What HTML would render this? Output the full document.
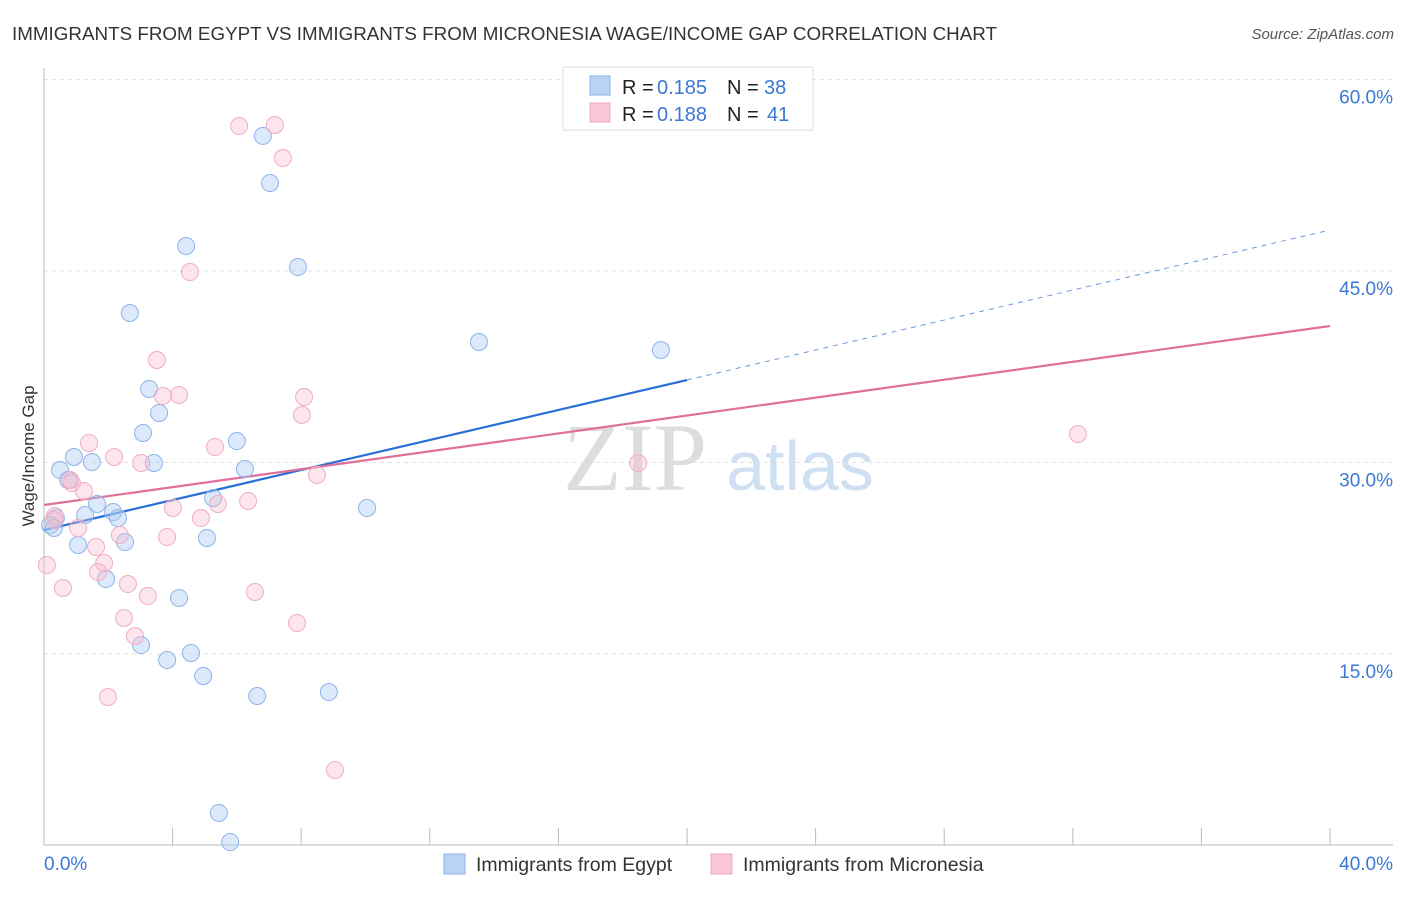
<!DOCTYPE html>
<html><head><meta charset="utf-8"><style>
body{margin:0;background:#fff;font-family:"Liberation Sans",sans-serif;}
svg text{font-family:"Liberation Sans",sans-serif;}
</style></head><body>
<svg id="chart" width="1406" height="892" viewBox="0 0 1406 892" xmlns="http://www.w3.org/2000/svg">
<text x="12" y="40" font-size="18.8" fill="#333" textLength="985">IMMIGRANTS FROM EGYPT VS IMMIGRANTS FROM MICRONESIA WAGE/INCOME GAP CORRELATION CHART</text>
<text x="1394" y="39" font-size="15" fill="#555" font-style="italic" text-anchor="end">Source: ZipAtlas.com</text>
<g id="grid"></g>
<text x="635" y="490" font-size="96" fill="#ddd" text-anchor="middle" style="font-family:'Liberation Serif',serif">ZIP</text>
<text x="800" y="490" font-size="70" fill="#cfe0f3" text-anchor="middle">atlas</text>
<g id="lines"></g>
<g id="points"></g>
<text transform="translate(34,456) rotate(-90)" font-size="17" fill="#333" text-anchor="middle">Wage/Income Gap</text>
<text x="44" y="870" font-size="19" fill="#3a78d4">0.0%</text>
<text x="1393" y="870" font-size="19" fill="#3a78d4" text-anchor="end">40.0%</text>
<g>
<rect x="563" y="67" width="250" height="63" fill="#fff" stroke="#ddd"/>
<rect x="590" y="76" width="20" height="19" fill="#b8d3f5" stroke="#8ab4ea"/>
<text x="622" y="94" font-size="20" fill="#222">R =</text>
<text x="657" y="94" font-size="20" fill="#3a78d4">0.185</text>
<text x="727" y="94" font-size="20" fill="#222">N =</text>
<text x="764" y="94" font-size="20" fill="#3a78d4">38</text>
<rect x="590" y="103" width="20" height="19" fill="#f9c6d6" stroke="#f0a8c0"/>
<text x="622" y="121" font-size="20" fill="#222">R =</text>
<text x="657" y="121" font-size="20" fill="#3a78d4">0.188</text>
<text x="727" y="121" font-size="20" fill="#222">N =</text>
<text x="767" y="121" font-size="20" fill="#3a78d4">41</text>
</g>
<g>
<rect x="444" y="854" width="21" height="20" fill="#b8d3f5" stroke="#8ab4ea"/>
<text x="476" y="871" font-size="19.5" fill="#333">Immigrants from Egypt</text>
<rect x="711" y="854" width="21" height="20" fill="#f9c6d6" stroke="#f0a8c0"/>
<text x="743" y="871" font-size="19.5" fill="#333">Immigrants from Micronesia</text>
</g>
</svg>
<script>
const yTicks=[15,30,45,60];
const yTickLabels=["15.0%","30.0%","45.0%","60.0%"];
const xTicks=[4,8,12,16,20,24,28,32,36,40];
const egyptX=[6.81,7.03,4.42,7.90,2.67,13.53,19.19,3.27,3.58,3.08,6.00,0.93,1.49,3.42,0.50,6.25,0.75,5.26,1.65,1.28,2.15,2.30,10.05,0.37,0.19,0.31,2.52,1.06,5.07,1.93,4.20,3.02,4.57,3.83,4.95,6.63,8.86,5.44,5.79];
const egyptY=[55.58,51.89,46.96,45.31,41.71,39.44,38.81,35.76,33.88,32.31,31.68,30.43,30.04,29.96,29.41,29.49,28.63,27.22,26.75,25.89,26.12,25.65,26.44,25.65,25.10,24.87,23.77,23.54,24.09,20.87,19.39,15.70,15.08,14.53,13.28,11.71,12.02,2.55,0.27];
const micX=[6.07,7.18,7.43,4.54,3.51,4.20,3.70,8.09,8.02,1.40,5.32,2.18,3.02,18.48,32.16,8.49,0.87,1.24,4.01,5.41,6.35,4.88,0.34,1.06,2.36,3.83,1.62,1.87,0.09,1.68,2.61,0.59,3.23,6.56,2.49,7.87,2.83,1.99,9.05,0.31,0.81];
const micY=[56.36,56.44,53.85,44.92,38.03,35.29,35.21,35.13,33.72,31.53,31.21,30.43,29.96,29.96,32.23,29.02,28.39,27.77,26.44,26.75,26.98,25.65,25.81,24.87,24.32,24.16,23.38,22.13,21.97,21.42,20.48,20.17,19.54,19.86,17.82,17.43,16.41,11.63,5.91,25.50,28.63];
const egyptTrend=[24.71,48.21];
const micTrend=[26.67,40.69];
const egyptSolidEnd=20;
const NS="http://www.w3.org/2000/svg";
const sx=v=>44+v/40*1286;
const sy=v=>845.5-v/15*191.5;
function mk(tag,attrs,parent){const e=document.createElementNS(NS,tag);for(const k in attrs)e.setAttribute(k,attrs[k]);parent.appendChild(e);return e;}
const grid=document.getElementById('grid');
yTicks.forEach((t,i)=>{
 const l=mk('line',{x1:44,x2:1393,y1:sy(t),y2:sy(t),stroke:'#e2e2e2','stroke-dasharray':'4,4'},grid);
 
 
 const tx=mk('text',{x:1393,y:sy(t)+24,'font-size':19,fill:'#3a78d4','text-anchor':'end'},grid);
 tx.textContent=yTickLabels[i];
 
 
});
const ax=mk('line',{x1:44,x2:44,y1:68,y2:845,stroke:'#bbb'},grid);


const bx=mk('line',{x1:44,x2:1393,y1:845,y2:845,stroke:'#bbb'},grid);


xTicks.forEach(t=>{
 const l=mk('line',{x1:sx(t),x2:sx(t),y1:828,y2:845,stroke:'#bbb'},grid);
 
 
});
const lines=document.getElementById('lines');
const ey=x=>egyptTrend[0]+(egyptTrend[1]-egyptTrend[0])*x/40;
const l1=mk('line',{x1:sx(0),y1:sy(ey(0)),x2:sx(egyptSolidEnd),y2:sy(ey(egyptSolidEnd)),stroke:'#2a6fd6','stroke-width':2.2},lines);


const l2=mk('line',{x1:sx(egyptSolidEnd),y1:sy(ey(egyptSolidEnd)),x2:sx(40),y2:sy(ey(40)),stroke:'#6a9ae0','stroke-width':1,'stroke-dasharray':'5,5'},lines);


const l3=mk('line',{x1:sx(0),y1:sy(micTrend[0]),x2:sx(40),y2:sy(micTrend[1]),stroke:'#e0709a','stroke-width':2.2},lines);


const pts=document.getElementById('points');
egyptX.forEach((x,i)=>{
 const c=mk('circle',{cx:sx(x),cy:sy(egyptY[i]),r:8.5,fill:'rgba(170,202,244,0.42)',stroke:'#8cb4ea','stroke-width':1},pts);
 
 
});
micX.forEach((x,i)=>{
 const c=mk('circle',{cx:sx(x),cy:sy(micY[i]),r:8.5,fill:'rgba(248,186,206,0.38)',stroke:'#f0adc4','stroke-width':1},pts);
 
 
});
</script>
</body></html>
